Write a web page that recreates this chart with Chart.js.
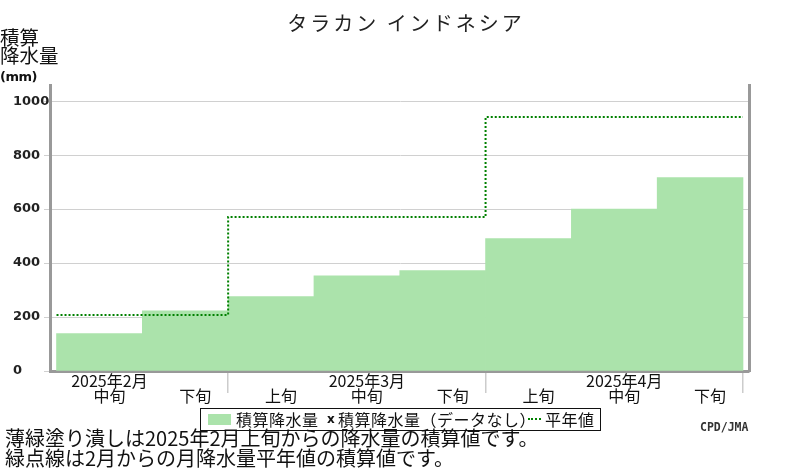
<!DOCTYPE html>
<html lang="ja">
<head>
<meta charset="utf-8">
<title>タラカン インドネシア</title>
<script src="https://cdn.jsdelivr.net/npm/chart.js@4.4.1/dist/chart.umd.min.js"></script>
<style>
  body { margin: 0; background: #fff; }
  #wrap { position: relative; width: 800px; height: 470px; font-family: 'Noto Sans CJK JP', sans-serif; color: #111; }
  #wrap canvas { position: absolute; left: 0; top: 0; }
  .title { position: absolute; left: 0; width: 812px; top: 8px; text-align: center; font-size: 20px; letter-spacing: 3px; color: #222; }
  .ylabel { position: absolute; left: 0; top: 28px; font-size: 19.5px; line-height: 18px; }
  .ylabel .unit { font-family: 'DejaVu Sans', sans-serif; font-weight: bold; font-size: 13px; line-height: 11px; letter-spacing: -0.5px; }
  .legend { position: absolute; left: 200px; top: 408px; width: 401px; height: 23px; box-sizing: border-box; border: 1.5px solid #111; font-size: 16px; line-height: 20px; letter-spacing: 0.5px; }
  .legend span { position: absolute; top: 0; white-space: nowrap; }
  .legend .swatch { left: 7px; top: 5px; width: 23px; height: 11px; background: #abe3ab; }
  .legend .cross { font-family: 'DejaVu Sans', sans-serif; font-weight: bold; font-size: 12px; }
  .legend .dots { top: 9px; width: 13px; height: 0; border-top: 2px dotted #008000; }
  .note { position: absolute; left: 5px; top: 428px; font-size: 20px; line-height: 19.5px; white-space: nowrap; }
  .credit { position: absolute; left: 700px; top: 420px; font-family: 'DejaVu Sans Mono', monospace; font-weight: bold; font-size: 11.5px; color: #333; }
</style>
</head>
<body>
<div id="wrap">
  <canvas id="rainChart" width="800" height="470"></canvas>
  <div class="title">タラカン インドネシア</div>
  <div class="ylabel">積算<br>降水量<br><span class="unit">(mm)</span></div>
  <div class="legend">
    <span class="swatch"></span>
    <span style="left:35px">積算降水量</span>
    <span class="cross" style="left:126px">x</span>
    <span style="left:137px">積算降水量（データなし）</span>
    <span class="dots" style="left:327px"></span>
    <span style="left:344px">平年値</span>
  </div>
  <div class="note">薄緑塗り潰しは2025年2月上旬からの降水量の積算値です。<br>緑点線は2月からの月降水量平年値の積算値です。</div>
  <div class="credit">CPD/JMA</div>
</div>
<script>
const monthLabels = ['2025年2月', '2025年3月', '2025年4月'];
const dekadLabels = ['中旬', '下旬', '上旬', '中旬', '下旬', '上旬', '中旬', '下旬'];
const dekadMonth = [0, 0, 1, 1, 1, 2, 2, 2];
const accumPrecip = [139, 223, 276, 353, 372, 491, 600, 717];
const accumNormal = [208, 208, 571, 571, 571, 941, 941, 941];
const yTicks = [0, 200, 400, 600, 800, 1000];

// month boundaries in dekad units (where the month changes, plus the end)
const monthEdges = [];
dekadMonth.forEach((m, i) => {
  if (i > 0 && m !== dekadMonth[i - 1]) monthEdges.push(i);
});
monthEdges.push(dekadLabels.length);

function labelFor(i) {
  const dekad = dekadLabels[i];
  if (dekad === '中旬') return [monthLabels[dekadMonth[i]], dekad];
  return dekad;
}

const barPoints = accumPrecip.map((v, i) => ({ x: i + 0.5, y: v }));
const normalPoints = accumNormal.flatMap((v, i) => [{ x: i, y: v }, { x: i + 1, y: v }]);

const ctx = document.getElementById('rainChart').getContext('2d');

new Chart(ctx, {
  data: {
    datasets: [
      {
        type: 'line',
        label: '平年値',
        data: normalPoints,
        borderColor: '#008000',
        borderWidth: 2,
        borderDash: [2, 2],
        pointRadius: 0,
        fill: false,
        tension: 0,
        order: 0
      },
      {
        type: 'bar',
        label: '積算降水量',
        data: barPoints,
        backgroundColor: '#abe3ab',
        borderWidth: 0,
        barThickness: 'flex',
        barPercentage: 1,
        categoryPercentage: 1,
        order: 1
      }
    ]
  },
  options: {
    responsive: false,
    animation: false,
    devicePixelRatio: 1,
    layout: {
      padding: { left: 13, right: 51, top: 85, bottom: 64 }
    },
    scales: {
      x: {
        type: 'linear',
        offset: false,
        min: -0.076,
        max: 8.07,
        afterBuildTicks(scale) {
          const ticks = [];
          for (let i = 0; i <= dekadLabels.length; i++) {
            ticks.push({ value: i });
            if (i < dekadLabels.length) ticks.push({ value: i + 0.5 });
          }
          scale.ticks = ticks;
        },
        afterFit(scale) {
          scale.height = 35;
        },
        ticks: {
          autoSkip: false,
          maxRotation: 0,
          padding: -12,
          labelOffset: 10,
          crossAlign: 'far',
          color: '#111',
          font: { family: 'Noto Sans CJK JP', size: 16, lineHeight: 0.95 },
          callback(value) {
            if (Number.isInteger(value)) return '';
            return labelFor(Math.floor(value));
          }
        },
        grid: {
          offset: false,
          drawOnChartArea: false,
          tickLength: 22,
          lineWidth: 1.5,
          color: context => (context.tick && monthEdges.includes(context.tick.value) ? '#cccccc' : 'transparent')
        },
        border: { color: '#999999', width: 3 }
      },
      y: {
        min: 0,
        max: 1060,
        afterBuildTicks(scale) {
          scale.ticks = yTicks.map(v => ({ value: v }));
        },
        afterFit(scale) {
          scale.width = 37;
        },
        ticks: {
          crossAlign: 'far',
          color: '#222',
          font: { family: 'DejaVu Sans', size: 13, weight: 'bold' },
          callback: value => String(value)
        },
        grid: {
          color: '#d0d0d0',
          tickLength: 6
        },
        border: { color: '#999999', width: 3 }
      },
      yRight: {
        position: 'right',
        min: 0,
        max: 1060,
        ticks: { display: false },
        grid: { display: false, drawTicks: false },
        border: { color: '#999999', width: 3 },
        afterFit(scale) {
          scale.width = 0;
        }
      }
    },
    plugins: {
      legend: { display: false },
      tooltip: { enabled: false }
    }
  }
});
</script>
</body>
</html>
